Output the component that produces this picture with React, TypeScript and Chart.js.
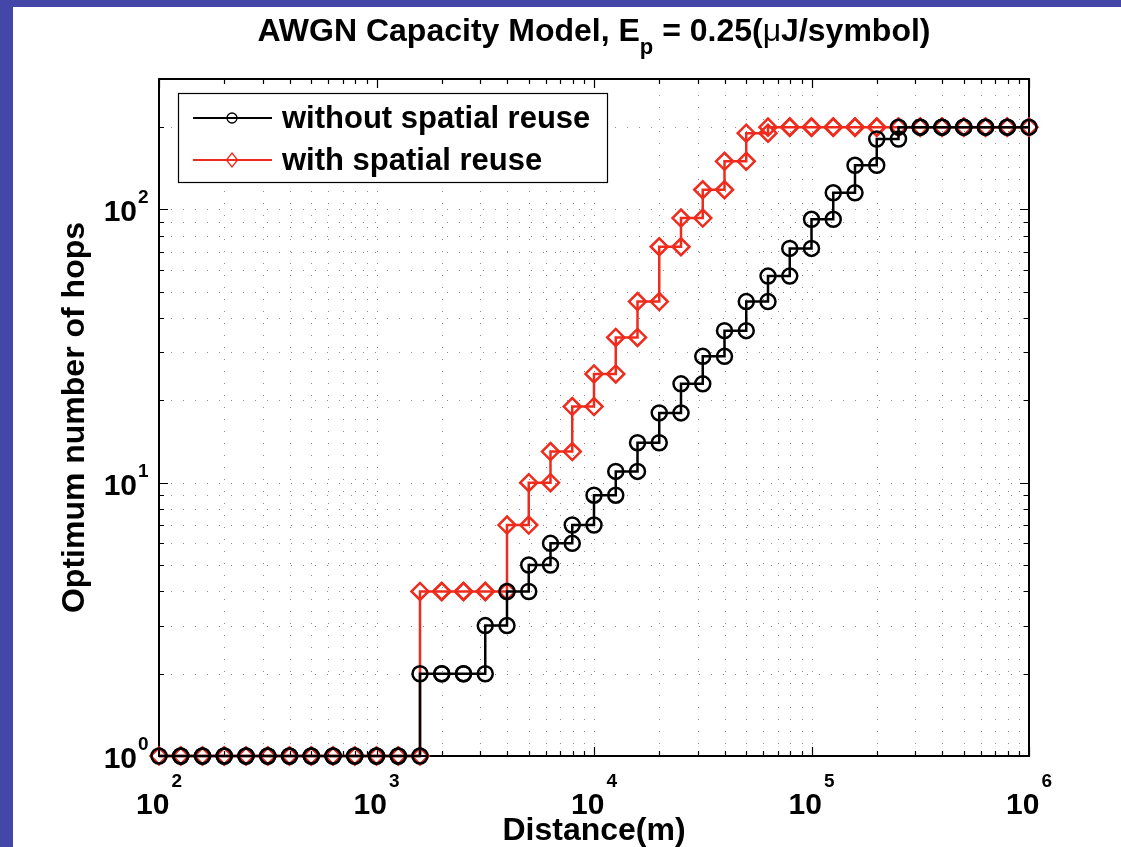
import React, { useEffect, useRef } from 'react';
import { Chart, registerables } from 'chart.js';

Chart.register(...registerables);

// log10 of distance (m) at each sample
const distanceExp = [
  2.0, 2.1, 2.2, 2.3, 2.4, 2.5, 2.6, 2.7, 2.8, 2.9,
  3.0, 3.1, 3.2, 3.3, 3.4, 3.5, 3.6, 3.7, 3.8, 3.9,
  4.0, 4.1, 4.2, 4.3, 4.4, 4.5, 4.6, 4.7, 4.8, 4.9,
  5.0, 5.1, 5.2, 5.3, 5.4, 5.5, 5.6, 5.7, 5.8, 5.9,
  6.0,
];

// optimum number of hops on each interval [distanceExp[i], distanceExp[i+1]]
const hopsWithoutReuse = [
  1, 1, 1, 1, 1, 1, 1, 1, 1, 1,
  1, 1, 2, 2, 2, 3, 4, 5, 6, 7,
  9, 11, 14, 18, 23, 29, 36, 46, 57, 72,
  92, 115, 145, 181, 200, 200, 200, 200, 200, 200,
];
const hopsWithReuse = [
  1, 1, 1, 1, 1, 1, 1, 1, 1, 1,
  1, 1, 4, 4, 4, 4, 7, 10, 13, 19,
  25, 34, 46, 73, 93, 118, 150, 190, 200, 200,
  200, 200, 200, 200, 200, 200, 200, 200, 200, 200,
];

const seriesLabels = ['without spatial reuse', 'with spatial reuse'];
const seriesColors = ['#000000', '#ee2b1c'];
const xTickExps = [2, 3, 4, 5, 6];
const yTickExps = [0, 1, 2];
const xMin = 100;
const xMax = 1e6;
const yMin = 1;
const yMax = 300;

const titleMain = 'AWGN Capacity Model, E';
const titleSub = 'p';
const titleRest1 = ' = 0.25(';
const titleMu = 'μ';
const titleRest2 = 'J/symbol)';
const xTitle = 'Distance(m)';
const yTitle = 'Optimum number of hops';

const FONT = '"Liberation Sans", Arial, Helvetica, sans-serif';
const W = 1108;
const H = 840;

function stairs(vals: number[]) {
  const pts: { x: number; y: number }[] = [];
  for (let i = 0; i < vals.length; i++) {
    pts.push({ x: Math.pow(10, distanceExp[i]), y: vals[i] });
    pts.push({ x: Math.pow(10, distanceExp[i + 1]), y: vals[i] });
  }
  return pts;
}

function logGridValues(min: number, max: number) {
  const out: { v: number; major: boolean }[] = [];
  const e0 = Math.floor(Math.log10(min));
  const e1 = Math.ceil(Math.log10(max));
  for (let e = e0; e <= e1; e++) {
    for (let m = 1; m <= 9; m++) {
      const v = m * Math.pow(10, e);
      if (v >= min * 0.9999 && v <= max * 1.0001) out.push({ v, major: m === 1 });
    }
  }
  return out;
}

type Run = { text: string; font: string; dy: number };
function drawRuns(ctx: CanvasRenderingContext2D, runs: Run[], cx: number, baseline: number) {
  let total = 0;
  for (const r of runs) {
    ctx.font = r.font;
    total += ctx.measureText(r.text).width;
  }
  let x = cx - total / 2;
  ctx.textAlign = 'left';
  ctx.textBaseline = 'alphabetic';
  for (const r of runs) {
    ctx.font = r.font;
    ctx.fillText(r.text, x, baseline + r.dy);
    x += ctx.measureText(r.text).width;
  }
}

function drawMarker(ctx: CanvasRenderingContext2D, kind: 'circle' | 'diamond', x: number, y: number, r: number) {
  ctx.beginPath();
  if (kind === 'circle') {
    ctx.arc(x, y, r, 0, Math.PI * 2);
  } else {
    ctx.moveTo(x, y - r);
    ctx.lineTo(x + r * 0.8, y);
    ctx.lineTo(x, y + r);
    ctx.lineTo(x - r * 0.8, y);
    ctx.closePath();
  }
  ctx.stroke();
}

const decor = {
  id: 'decor',
  beforeDatasetsDraw(chart: any) {
    const { ctx, chartArea: a } = chart;
    const xs = chart.scales.x;
    const ys = chart.scales.y;
    ctx.save();
    // dotted grid
    ctx.strokeStyle = 'rgba(60,60,60,0.6)';
    ctx.lineWidth = 1;
    ctx.setLineDash([1, 11]);
    for (const g of logGridValues(xMin, xMax)) {
      const px = Math.round(xs.getPixelForValue(g.v)) + 0.5;
      if (px <= a.left + 1 || px >= a.right - 1) continue;
      ctx.beginPath();
      ctx.moveTo(px, a.bottom);
      ctx.lineTo(px, a.top);
      ctx.stroke();
    }
    for (const g of logGridValues(yMin, yMax)) {
      const py = Math.round(ys.getPixelForValue(g.v)) + 0.5;
      if (py <= a.top + 1 || py >= a.bottom - 1) continue;
      ctx.beginPath();
      ctx.moveTo(a.left, py);
      ctx.lineTo(a.right, py);
      ctx.stroke();
    }
    ctx.setLineDash([]);
    // inward ticks
    ctx.strokeStyle = '#000';
    ctx.lineWidth = 1.2;
    for (const g of logGridValues(xMin, xMax)) {
      const px = Math.round(xs.getPixelForValue(g.v)) + 0.5;
      const len = g.major ? 9 : 5;
      ctx.beginPath();
      ctx.moveTo(px, a.bottom);
      ctx.lineTo(px, a.bottom - len);
      ctx.moveTo(px, a.top);
      ctx.lineTo(px, a.top + len);
      ctx.stroke();
    }
    for (const g of logGridValues(yMin, yMax)) {
      const py = Math.round(ys.getPixelForValue(g.v)) + 0.5;
      const len = g.major ? 9 : 5;
      ctx.beginPath();
      ctx.moveTo(a.left, py);
      ctx.lineTo(a.left + len, py);
      ctx.moveTo(a.right, py);
      ctx.lineTo(a.right - len, py);
      ctx.stroke();
    }
    // box
    ctx.lineWidth = 2;
    ctx.strokeRect(a.left, a.top, a.right - a.left, a.bottom - a.top);
    ctx.restore();
  },
  afterDraw(chart: any) {
    const { ctx, chartArea: a } = chart;
    const xs = chart.scales.x;
    const ys = chart.scales.y;
    ctx.save();
    ctx.fillStyle = '#000';
    const big = `bold 30px ${FONT}`;
    const small = `bold 19px ${FONT}`;
    // x tick labels
    for (const e of xTickExps) {
      const px = xs.getPixelForValue(Math.pow(10, e));
      ctx.font = big;
      const w1 = ctx.measureText('10').width;
      ctx.font = small;
      const w2 = ctx.measureText(String(e)).width;
      const left = px - (w1 + w2 + 2) / 2;
      ctx.textAlign = 'left';
      ctx.textBaseline = 'alphabetic';
      ctx.font = big;
      ctx.fillText('10', left, a.bottom + 58);
      ctx.font = small;
      ctx.fillText(String(e), left + w1 + 2, a.bottom + 31);
    }
    // y tick labels
    for (const e of yTickExps) {
      const py = ys.getPixelForValue(Math.pow(10, e));
      ctx.textAlign = 'right';
      ctx.font = big;
      ctx.fillText('10', a.left - 22, py + 12);
      ctx.textAlign = 'left';
      ctx.font = small;
      ctx.fillText(String(e), a.left - 22 + 1, py - 6);
    }
    // title
    const cx = (a.left + a.right) / 2;
    const tf = `bold 32px ${FONT}`;
    drawRuns(
      ctx,
      [
        { text: titleMain, font: tf, dy: 0 },
        { text: titleSub, font: `bold 22px ${FONT}`, dy: 13 },
        { text: titleRest1, font: tf, dy: 0 },
        { text: titleMu, font: `32px ${FONT}`, dy: 0 },
        { text: titleRest2, font: tf, dy: 0 },
      ],
      cx,
      34
    );
    // x title
    ctx.font = `bold 32px ${FONT}`;
    ctx.textAlign = 'center';
    ctx.textBaseline = 'alphabetic';
    ctx.fillText(xTitle, cx, 833);
    // y title
    ctx.save();
    ctx.translate(71, (a.top + a.bottom) / 2);
    ctx.rotate(-Math.PI / 2);
    ctx.fillText(yTitle, 0, 0);
    ctx.restore();
    // legend
    const lx = 165;
    const ly = 86;
    const lw = 429;
    const lh = 89;
    ctx.fillStyle = '#fff';
    ctx.fillRect(lx, ly, lw, lh);
    ctx.strokeStyle = '#000';
    ctx.lineWidth = 1.2;
    ctx.strokeRect(lx + 0.5, ly + 0.5, lw, lh);
    const rows = [ly + 25, ly + 67];
    const kinds: ('circle' | 'diamond')[] = ['circle', 'diamond'];
    for (let i = 0; i < 2; i++) {
      const ry = rows[i];
      ctx.strokeStyle = seriesColors[i];
      ctx.lineWidth = 2;
      ctx.beginPath();
      ctx.moveTo(lx + 15, ry);
      ctx.lineTo(lx + 94, ry);
      ctx.stroke();
      ctx.lineWidth = 1.3;
      drawMarker(ctx, kinds[i], lx + 54, ry, kinds[i] === 'circle' ? 5 : 7);
      ctx.fillStyle = '#000';
      ctx.font = `bold 31px ${FONT}`;
      ctx.textAlign = 'left';
      ctx.textBaseline = 'middle';
      ctx.fillText(seriesLabels[i], lx + 104, ry + 1);
    }
    ctx.restore();
  },
};

export default function App() {
  const canvasRef = useRef<HTMLCanvasElement | null>(null);

  useEffect(() => {
    const canvas = canvasRef.current;
    if (!canvas) return;
    const chart = new Chart(canvas, {
      type: 'line',
      data: {
        datasets: [
          {
            label: seriesLabels[0],
            data: stairs(hopsWithoutReuse),
            borderColor: seriesColors[0],
            borderWidth: 2.5,
            pointStyle: 'circle',
            pointRadius: 7.5,
            pointBorderWidth: 2.5,
            pointBorderColor: seriesColors[0],
            pointBackgroundColor: 'rgba(0,0,0,0)',
            pointHoverRadius: 7.5,
            tension: 0,
            clip: false as any,
          },
          {
            label: seriesLabels[1],
            data: stairs(hopsWithReuse),
            borderColor: seriesColors[1],
            borderWidth: 2.5,
            pointStyle: 'rectRot',
            pointRadius: 8.5,
            pointBorderWidth: 2.5,
            pointBorderColor: seriesColors[1],
            pointBackgroundColor: 'rgba(0,0,0,0)',
            pointHoverRadius: 8.5,
            tension: 0,
            clip: false as any,
          },
        ],
      },
      options: {
        animation: false,
        responsive: false,
        devicePixelRatio: 1,
        events: [],
        layout: { padding: { left: 0, top: 72, right: 92, bottom: 0 } },
        plugins: {
          legend: { display: false },
          title: { display: false },
          tooltip: { enabled: false },
        },
        scales: {
          x: {
            type: 'logarithmic',
            min: xMin,
            max: xMax,
            grid: { display: false },
            border: { display: false },
            ticks: { display: false },
            afterFit: (s: any) => {
              s.height = 91;
            },
          },
          y: {
            type: 'logarithmic',
            min: yMin,
            max: yMax,
            grid: { display: false },
            border: { display: false },
            ticks: { display: false },
            afterFit: (s: any) => {
              s.width = 146;
            },
          },
        },
      },
      plugins: [decor],
    } as any);
    return () => chart.destroy();
  }, []);

  return (
    <div
      style={{
        position: 'absolute',
        left: 0,
        top: 0,
        width: 1121,
        height: 847,
        background: '#4447a8',
        overflow: 'hidden',
      }}
    >
      <div
        style={{
          position: 'absolute',
          left: 13,
          top: 7,
          width: W,
          height: H,
          background: '#ffffff',
        }}
      >
        <canvas ref={canvasRef} width={W} height={H} style={{ display: 'block' }} />
      </div>
    </div>
  );
}
